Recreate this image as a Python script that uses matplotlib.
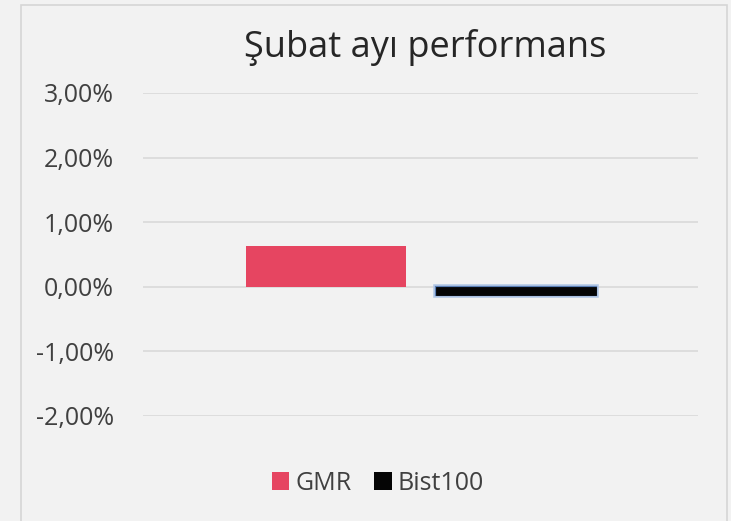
import matplotlib.pyplot as plt
from matplotlib.patches import Rectangle, Patch
from matplotlib.ticker import FuncFormatter

plt.rcParams['font.family'] = ['Open Sans', 'DejaVu Sans']

series = ['GMR', 'Bist100']
values = [0.63, -0.12]
colors = ['#e64561', '#050505']
y_ticks = [-2, -1, 0, 1, 2, 3]

W, H = 731, 521
fig = plt.figure(figsize=(W / 100, H / 100), dpi=100)
fig.patch.set_facecolor('#f2f2f2')

# chart border
fig.patches.append(Rectangle((21 / W, -0.05), (727 - 21) / W, 1.05 - 5 / H,
                             transform=fig.transFigure, fill=False,
                             edgecolor='#d6d6d6', lw=1.2))

ax = fig.add_axes([143 / W, 1 - 416 / H, (698 - 143) / W, (416 - 93) / H])
ax.set_facecolor('#f2f2f2')

pos = [325.5, 516]
ax.bar(pos[0], values[0], width=160, color=colors[0], lw=0, zorder=3)
# soft blue glow around the black bar
ax.bar(pos[1], values[1], width=160, color=colors[1], edgecolor='#b3c8e6',
       lw=4, zorder=3)
ax.bar(pos[1], values[1], width=160, color=colors[1], edgecolor='#5a7fb5',
       lw=1.6, zorder=4)
ax.bar(pos[1], values[1], width=160, color=colors[1], edgecolor=colors[1],
       lw=0.6, zorder=5)

ax.set_xlim(143, 698)
ax.set_ylim(-2, 3)
ax.set_yticks(y_ticks)
ax.yaxis.set_major_formatter(FuncFormatter(lambda v, _: f'{v:.2f}'.replace('.', ',') + '%'))
ax.grid(axis='y', color='#d9d9d9', lw=1.2, zorder=0)
ax.set_xticks([])
for s in ax.spines.values():
    s.set_visible(False)
ax.tick_params(axis='y', length=0, pad=21, labelsize=18, labelcolor='#404040')

fig.text(425 / W, 1 - 47 / H, 'Şubat ayı performans', ha='center', va='center',
         fontsize=26, color='#262626')

handles = [Patch(facecolor=c, edgecolor='none') for c in colors]
fig.legend(handles, series, loc='center', bbox_to_anchor=(378 / W, 1 - 483 / H),
           ncol=2, frameon=False, fontsize=18, labelcolor='#404040',
           handlelength=0.7, handleheight=0.7, handletextpad=0.25, columnspacing=0.9)

fig.savefig('out.png', dpi=100, facecolor=fig.get_facecolor())
